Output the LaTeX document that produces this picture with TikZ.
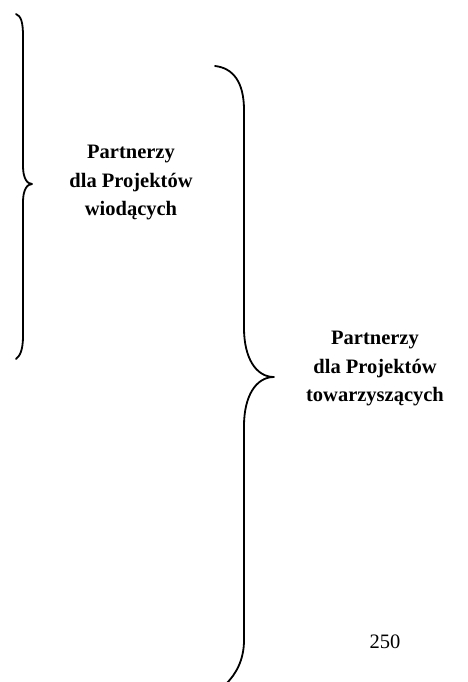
\documentclass[tikz,border=0pt]{standalone}
\usepackage{fontspec}
\setmainfont{Liberation Serif}
\begin{document}
\begin{tikzpicture}[x=1pt,y=-1pt,
  bracepath/.style={line width=1.8pt, line cap=round, line join=round},
  label/.style={font=\fontsize{20.5}{28}\selectfont\bfseries, inner sep=0pt, anchor=base},
  pagenum/.style={font=\fontsize{20.5}{28}\selectfont, inner sep=0pt, anchor=base}]
\useasboundingbox (0,0) rectangle (467,682);
% first brace
\coordinate (b1top) at (16,14);
\coordinate (b1tip) at (32,184);
\coordinate (b1bot) at (16,359);
\draw[bracepath] (b1top) .. controls (21,16) and (23,22) .. (23,36) -- (23,166)
  .. controls (23,178) and (27,184) .. (b1tip)
  .. controls (27,184) and (23,190) .. (23,202) -- (23,336)
  .. controls (23,350) and (20,356) .. (b1bot);
% second brace
\coordinate (b2top) at (215,66);
\coordinate (b2tip) at (274,377);
\coordinate (b2bot) at (226,684);
\draw[bracepath] (b2top) .. controls (233,68) and (244,82) .. (244,110) -- (244,328)
  .. controls (244,358) and (256,377) .. (b2tip)
  .. controls (256,377) and (244,396) .. (244,426) -- (244,640)
  .. controls (244,660) and (236,674) .. (b2bot);
% labels
\node[label] (a1) at (131,158) {Partnerzy};
\node[label] (a2) at (131,187) {dla Projektów};
\node[label] (a3) at (131,215) {wiodących};
\node[label] (c1) at (375,344) {Partnerzy};
\node[label] (c2) at (375,373) {dla Projektów};
\node[label] (c3) at (375,401) {towarzyszących};
\node[pagenum] (pn) at (385,648) {250};
\end{tikzpicture}
\end{document}
